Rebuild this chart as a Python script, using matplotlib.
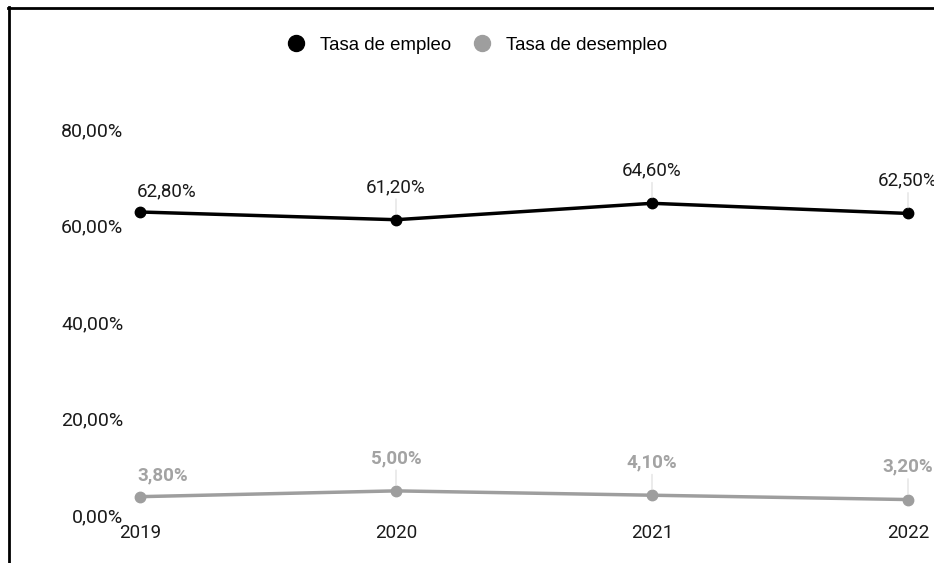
import matplotlib.pyplot as plt
from matplotlib.lines import Line2D

# datos
anios = ['2019', '2020', '2021', '2022']
tasa_empleo = [62.8, 61.2, 64.6, 62.5]
tasa_desempleo = [3.8, 5.0, 4.1, 3.2]
ticks_y = [0, 20, 40, 60, 80]

NEGRO = '#000000'
GRIS = '#9e9e9e'
GRIS_TEXTO = '#a3a3a3'


def fmt(v):
    return f'{v:.2f}'.replace('.', ',') + '%'


W, H = 934, 563
fig = plt.figure(figsize=(W / 100, H / 100), dpi=100)
ax = fig.add_axes([140 / W, (H - 515) / H, 768 / W, 386 / H])

x = list(range(len(anios)))
ax.plot(x, tasa_empleo, color=NEGRO, lw=2.5, marker='o', ms=7.5, clip_on=False, zorder=3)
ax.plot(x, tasa_desempleo, color=GRIS, lw=2.5, marker='o', ms=7.5, clip_on=False, zorder=3)

# etiquetas de valor, la primera sin linea guia
for serie, color, peso in [(tasa_empleo, '#1a1a1a', 'normal'), (tasa_desempleo, GRIS_TEXTO, 'bold')]:
    for i, v in enumerate(serie):
        if i == 0:
            ax.annotate(fmt(v), (i, v), xytext=(-2, 15), textcoords='offset points',
                        ha='left', va='center', fontsize=13.5, family='Roboto',
                        color=color, fontweight=peso, annotation_clip=False)
        else:
            ax.annotate(fmt(v), (i, v), xytext=(0, 23.5), textcoords='offset points',
                        ha='center', va='center', fontsize=13.5, family='Roboto',
                        color=color, fontweight=peso, annotation_clip=False)
            ax.annotate('', (i, v), xytext=(0, 15), textcoords='offset points',
                        arrowprops=dict(arrowstyle='-', color='#dcdcdc', lw=0.8,
                                        shrinkA=0, shrinkB=4),
                        annotation_clip=False)

ax.set_xlim(0, 3)
ax.set_ylim(0, 80)
ax.set_xticks(x)
ax.set_xticklabels(anios)
ax.set_yticks(ticks_y)
ax.set_yticklabels([fmt(t) for t in ticks_y])
ax.tick_params(axis='y', length=0, pad=12, labelsize=14, labelcolor='#1a1a1a')
ax.tick_params(axis='x', length=0, pad=6.5, labelsize=13.5, labelcolor='#1a1a1a')
for lbl in ax.get_xticklabels() + ax.get_yticklabels():
    lbl.set_family('Roboto')
for s in ax.spines.values():
    s.set_visible(False)

# leyenda
handles = [
    Line2D([], [], ls='', marker='o', ms=11.5, color=NEGRO, label='Tasa de empleo'),
    Line2D([], [], ls='', marker='o', ms=11.5, color=GRIS, label='Tasa de desempleo'),
]
fig.legend(handles=handles, loc='center', bbox_to_anchor=(477 / W, 1 - 45 / H), ncol=2,
           frameon=False, prop={'family': 'Liberation Sans', 'size': 13.4},
           handletextpad=0.75, columnspacing=1.2, handlelength=1.0)

# marco superior e izquierdo
fig.add_artist(Line2D([8 / W, 1], [1 - 8 / H, 1 - 8 / H], color='black', lw=2))
fig.add_artist(Line2D([9 / W, 9 / W], [0, 1 - 7 / H], color='black', lw=2))

fig.savefig('out.png', dpi=100)
